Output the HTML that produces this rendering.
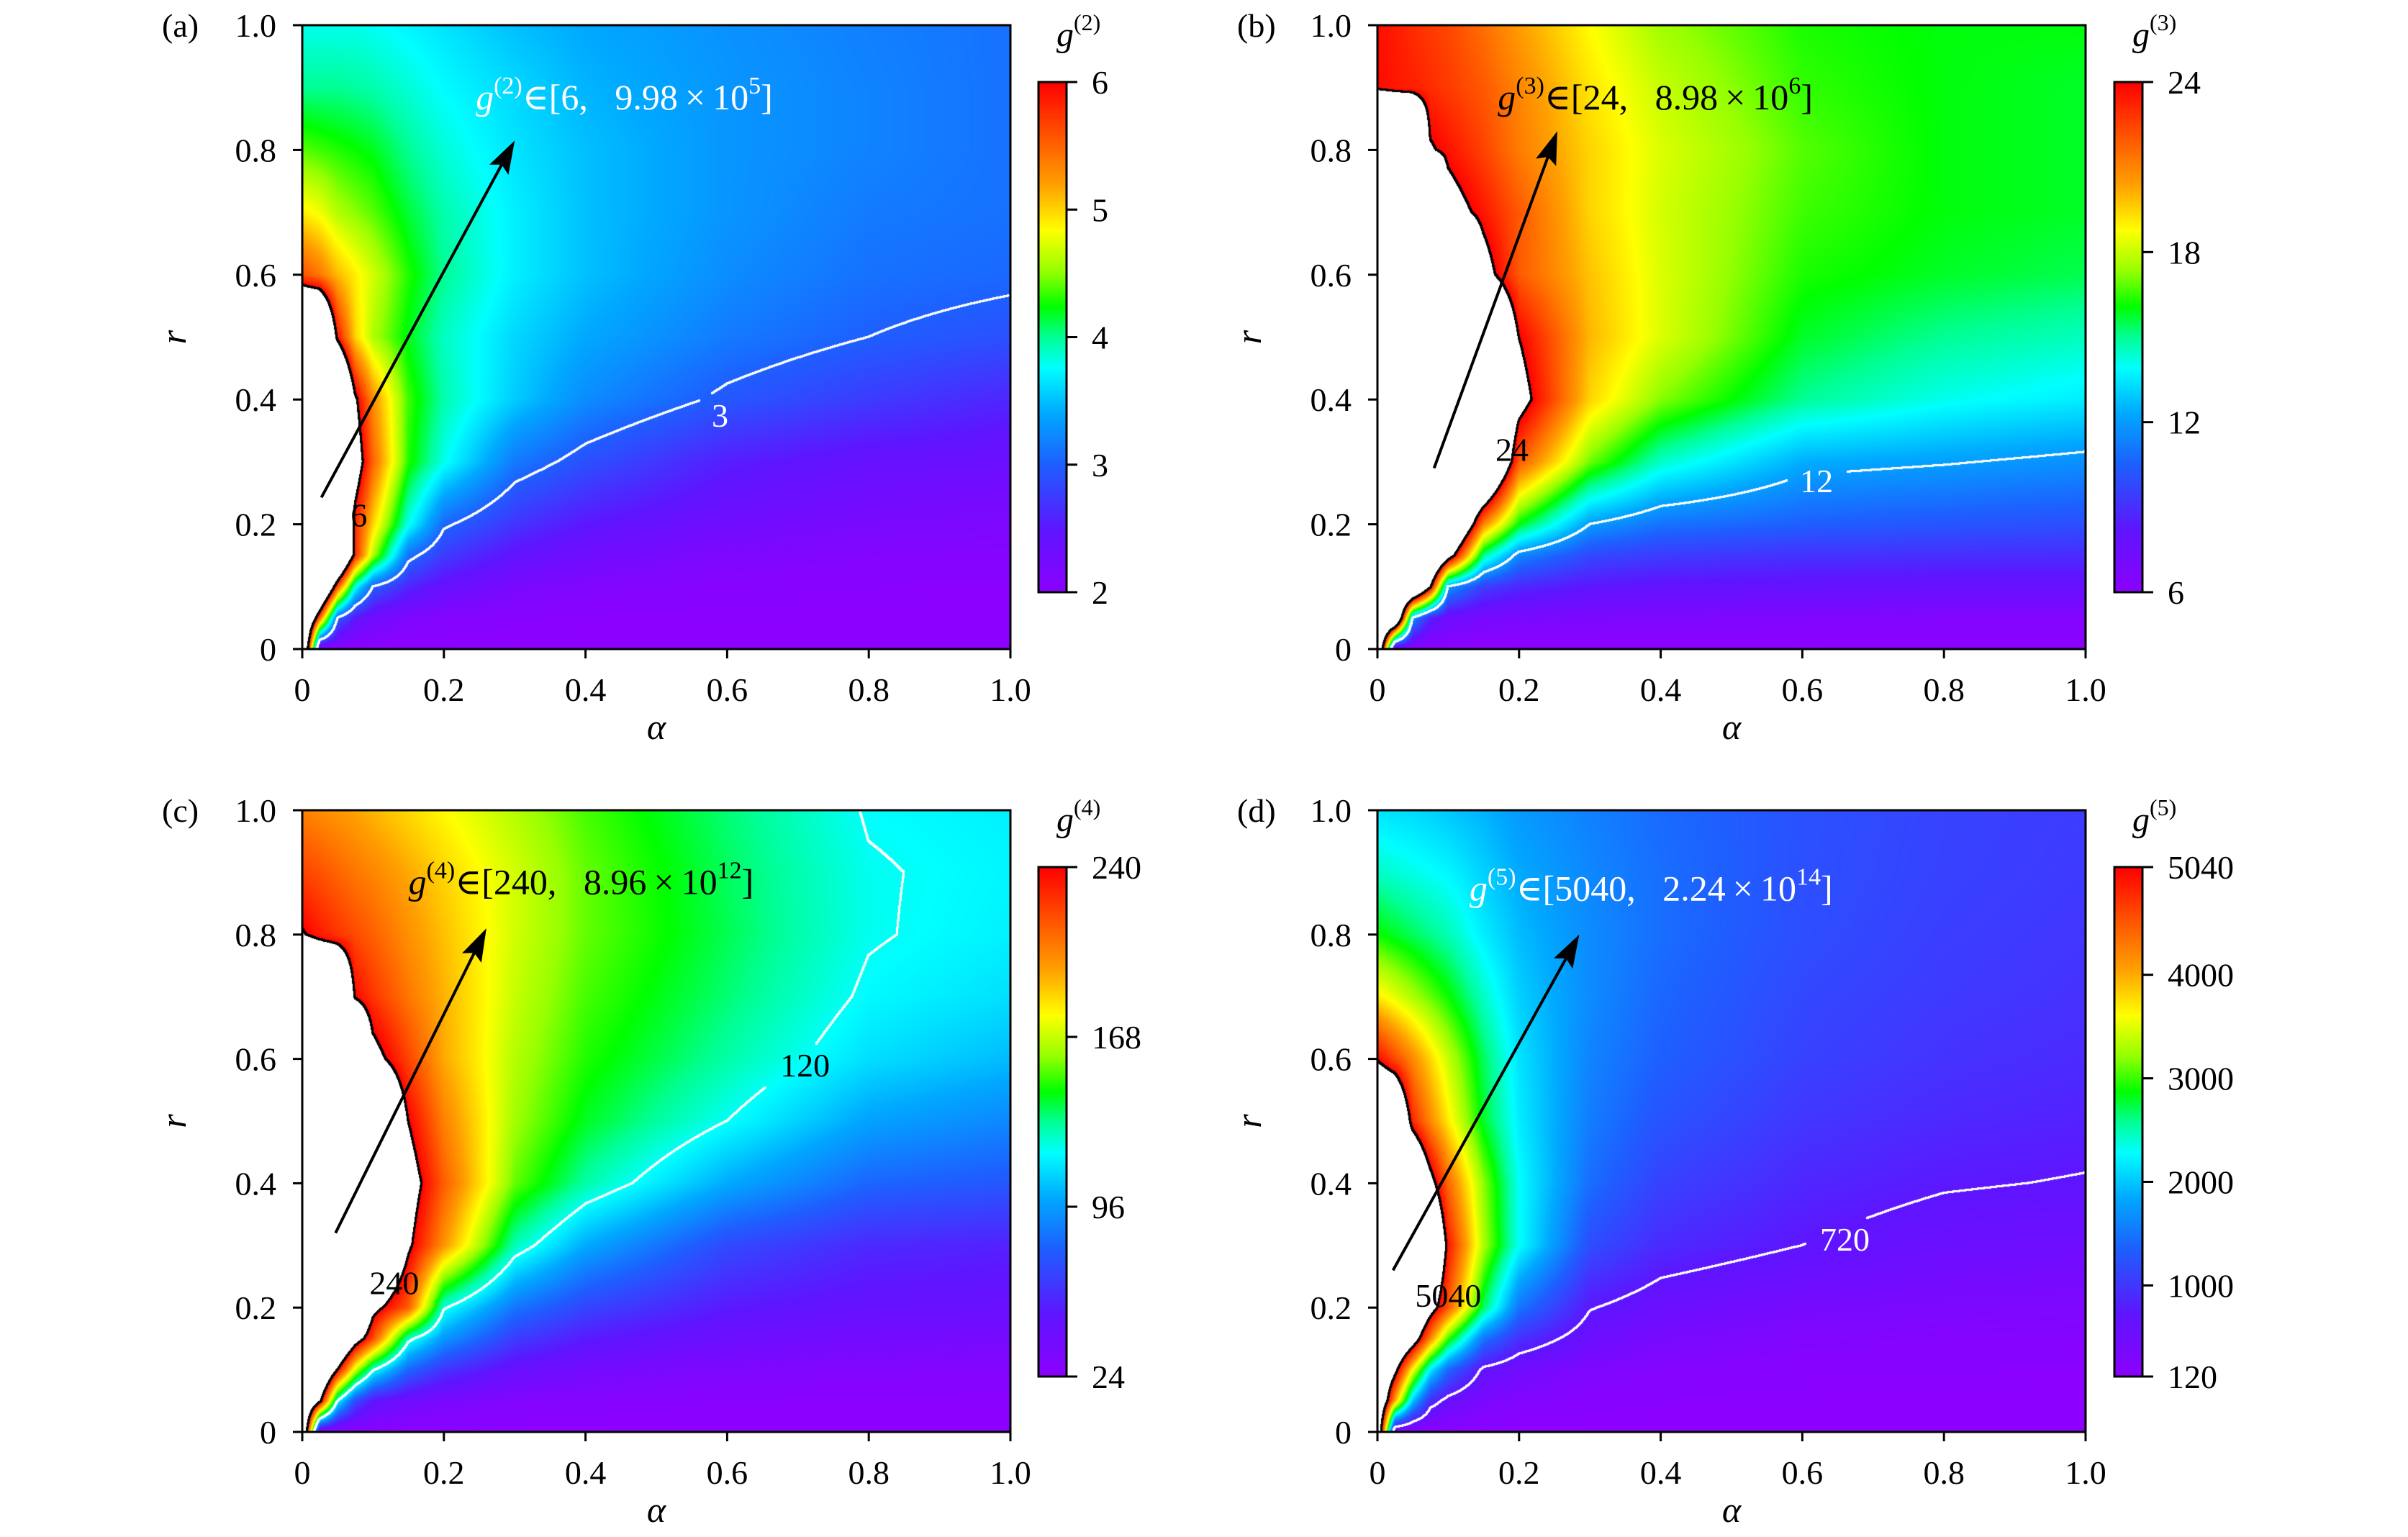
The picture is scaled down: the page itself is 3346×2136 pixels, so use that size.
<!DOCTYPE html>
<html><head><meta charset="utf-8">
<style>
html,body{margin:0;padding:0;background:#fff;}
#root{position:relative;width:3346px;height:2136px;overflow:hidden;background:#fff;}
canvas{position:absolute;}
svg{position:absolute;left:0;top:0;}
text{font-family:"Liberation Serif","DejaVu Serif",serif;white-space:pre;}
</style></head>
<body>
<div id="root">
<canvas id="cvA"></canvas>
<canvas id="cvB"></canvas>
<canvas id="cvC"></canvas>
<canvas id="cvD"></canvas>
<canvas id="cbA"></canvas>
<canvas id="cbB"></canvas>
<canvas id="cbC"></canvas>
<canvas id="cbD"></canvas>
<svg id="ov" width="3346" height="2136"></svg>
</div>
<script>
// grid coordinates
const alphaGrid=[0,0.025,0.05,0.075,0.1,0.15,0.2,0.3,0.4,0.6,0.8,1.0];
const rGrid=[0,0.05,0.1,0.15,0.2,0.3,0.4,0.5,0.6,0.7,0.8,0.9,1.0];
// panel (a) g2 values, rows = r, cols = alpha (values above 6 are blank)
const gridA=[
[8,2,2,2,2,2,2,2,2,2,2,2],
[8,5.5,3.0,2.5,2.3,2.15,2.1,2.05,2.03,2.02,2.01,2.0],
[8,8,5.6,3.8,3.0,2.6,2.4,2.2,2.12,2.06,2.03,2.02],
[8,8,8,5.8,4.6,3.1,2.75,2.45,2.3,2.15,2.1,2.08],
[8,8,8,5.8,5.0,3.8,3.05,2.7,2.5,2.3,2.2,2.15],
[8,8,8,6.4,5.5,4.3,3.8,3.15,2.9,2.55,2.4,2.35],
[8,8,8,6.1,5.3,4.35,3.95,3.55,3.25,2.95,2.75,2.6],
[8,8,5.9,5.0,4.6,4.2,3.9,3.6,3.4,3.15,3.0,2.9],
[5.6,5.4,5.1,4.9,4.7,4.3,4.0,3.7,3.5,3.25,3.1,3.05],
[4.9,4.8,4.6,4.5,4.4,4.15,3.95,3.7,3.5,3.3,3.15,3.1],
[4.4,4.35,4.3,4.25,4.2,4.0,3.85,3.65,3.5,3.3,3.2,3.1],
[4.0,4.0,4.0,3.98,3.95,3.85,3.75,3.6,3.45,3.3,3.2,3.1],
[3.8,3.8,3.8,3.8,3.78,3.72,3.65,3.5,3.4,3.28,3.18,3.1]];
// panel (b) g3
const gridB=[
[32,6,6,6,6,6,6,6,6,6,6,6],
[32,32,12,8.5,7.5,7.0,6.9,6.8,6.7,6.6,6.5,6.5],
[32,32,32,24.5,12,9.5,8.8,8.2,8,7.9,7.8,7.8],
[32,32,32,32,26,15,11.5,9.8,9.4,9.1,9.0,8.9],
[32,32,32,32,32,21,16,12,11,10.5,10.2,10.0],
[32,32,32,32,32,32,22,17,14.5,12.4,12.1,11.7],
[32,32,32,32,32,32,25,19.5,17.2,15,14.1,13.6],
[32,32,32,32,32,32,24,20,18.3,15.8,15,14.6],
[32,32,32,32,32,25,22,19.8,18.3,16.3,15.8,15.5],
[32,32,32,32,25,23.5,22,19.5,18.2,16.6,16,15.8],
[32,32,32,24.2,23.6,22.5,21.2,19.5,18.3,16.8,16,15.8],
[23.8,23.5,23.3,23,22.7,22,21,19.2,18,16.5,16,15.8],
[23.7,23.4,23,22.7,22.4,21.5,20.5,18.8,17.5,16.3,16,16]];
// panel (c) g4
const gridC=[
[320,24,24,24,24,24,24,24,24,24,24,24],
[320,250,120,70,50,40,35,30,28,26,25,25],
[320,320,240,170,122,80,62,45,38,32,30,29],
[320,320,320,260,220,125,95,65,52,42,38,36],
[320,320,320,320,250,215,122,85,68,52,46,44],
[320,320,320,320,320,245,200,128,100,70,58,55],
[320,320,320,320,320,255,215,155,130,100,80,75],
[320,320,320,320,320,240,205,162,142,120,98,90],
[320,320,320,320,250,222,195,165,148,130,112,104],
[320,320,320,238,226,208,193,168,152,135,118,112],
[242,233,226,220,214,201,190,170,155,138,121,116],
[222,218,213,208,204,195,186,170,155,137,121,117],
[205,202,199,196,192,185,178,165,152,135,119,116]];
// panel (d) g5
const gridD=[
[6500,120,120,120,120,120,120,120,120,120,120,120],
[6500,4000,2000,900,600,350,260,190,160,140,130,125],
[6500,5300,3600,2200,1400,650,480,300,230,180,160,150],
[6500,6500,5600,4200,3000,1500,950,550,380,270,230,210],
[6500,6500,6500,5400,4500,2700,1500,740,560,400,330,300],
[6500,6500,6500,6500,4900,3300,2300,1200,900,720,560,500],
[6500,6500,6500,5300,4400,3200,2300,1450,1100,870,750,700],
[6500,6500,4800,4200,3700,2800,2200,1550,1250,1000,880,820],
[5000,4600,4200,3800,3400,2700,2150,1600,1350,1100,970,900],
[3700,3500,3300,3100,2900,2450,2050,1650,1400,1150,1030,960],
[2900,2800,2700,2600,2500,2200,1950,1650,1450,1200,1070,1000],
[2450,2400,2350,2300,2250,2050,1850,1620,1450,1220,1100,1030],
[2150,2120,2100,2050,2000,1900,1750,1580,1430,1230,1110,1050]];
const axisTicks=[0,0.2,0.4,0.6,0.8,1.0];
const axisTickLabels=["0","0.2","0.4","0.6","0.8","1.0"];
const cbTicksA=[2,3,4,5,6];
const cbTicksB=[6,12,18,24];
const cbTicksC=[24,96,168,240];
const cbTicksD=[120,1000,2000,3000,4000,5040];
const contourLevels=[3,12,120,720];
const maxLevels=[6,24,240,5040];
const minLevels=[2,6,24,120];

const stops=[[0,[140,0,255]],[0.12,[95,20,255]],[0.25,[30,95,255]],[0.35,[0,168,255]],[0.44,[0,255,255]],[0.5,[0,255,150]],[0.56,[0,255,0]],[0.63,[150,255,0]],[0.71,[255,255,0]],[0.8,[255,160,0]],[0.9,[255,80,0]],[1,[255,0,0]]];
function cmap(t){t=Math.max(0,Math.min(1,t));for(let i=0;i<stops.length-1;i++){const a=stops[i],b=stops[i+1];if(t<=b[0]){const f=(t-a[0])/(b[0]-a[0]);return [0,1,2].map(k=>a[1][k]+(b[1][k]-a[1][k])*f);}}return stops[stops.length-1][1];}
function findIdx(arr,v){for(let i=0;i<arr.length-1;i++){if(v<=arr[i+1])return i;}return arr.length-2;}
function sample(grid,a,r){const i=findIdx(alphaGrid,a),j=findIdx(rGrid,r);const fa=(a-alphaGrid[i])/(alphaGrid[i+1]-alphaGrid[i]);const fr=(r-rGrid[j])/(rGrid[j+1]-rGrid[j]);const v00=grid[j][i],v01=grid[j][i+1],v10=grid[j+1][i],v11=grid[j+1][i+1];return (v00*(1-fa)+v01*fa)*(1-fr)+(v10*(1-fa)+v11*fa)*fr;}

const panels=[
{id:'a',cv:'cvA',cb:'cbA',grid:gridA,L:420,T:35,R:1404,B:902,cbx:1443,cbT:114,cbB:823,ticks:cbTicksA,min:minLevels[0],max:maxLevels[0],lev:contourLevels[0],n:2,
 label:'(a)',ann:{col:'#fff',a:0.245,r:0.865,sup:'2',rest:'∈[6,\u2002 9.98\u2009×\u200910',exp:'5'},arrow:[0.027,0.243,0.30,0.815],cl:[{t:'3',a:0.59,r:0.375,c:'#fff',gap:true},{t:'6',a:0.08,r:0.215,c:'#000'}]},
{id:'b',cv:'cvB',cb:'cbB',grid:gridB,L:1914,T:35,R:2898,B:902,cbx:2938,cbT:114,cbB:823,ticks:cbTicksB,min:minLevels[1],max:maxLevels[1],lev:contourLevels[1],n:3,
 label:'(b)',ann:{col:'#000',a:0.17,r:0.865,sup:'3',rest:'∈[24,\u2002 8.98\u2009×\u200910',exp:'6'},arrow:[0.08,0.29,0.254,0.83],cl:[{t:'24',a:0.19,r:0.32,c:'#000'},{t:'12',a:0.62,r:0.27,c:'#fff',gap:true}]},
{id:'c',cv:'cvC',cb:'cbC',grid:gridC,L:420,T:1126,R:1404,B:1990,cbx:1443,cbT:1205,cbB:1913,ticks:cbTicksC,min:minLevels[2],max:maxLevels[2],lev:contourLevels[2],n:4,
 label:'(c)',ann:{col:'#000',a:0.15,r:0.865,sup:'4',rest:'∈[240,\u2002 8.96\u2009×\u200910',exp:'12'},arrow:[0.047,0.32,0.26,0.81],cl:[{t:'240',a:0.13,r:0.24,c:'#000'},{t:'120',a:0.71,r:0.59,c:'#000',gap:true}]},
{id:'d',cv:'cvD',cb:'cbD',grid:gridD,L:1914,T:1126,R:2898,B:1990,cbx:2938,cbT:1205,cbB:1913,ticks:cbTicksD,min:minLevels[3],max:maxLevels[3],lev:contourLevels[3],n:5,
 label:'(d)',ann:{col:'#fff',a:0.13,r:0.855,sup:'5',rest:'∈[5040,\u2002 2.24\u2009×\u200910',exp:'14'},arrow:[0.022,0.26,0.285,0.8],cl:[{t:'5040',a:0.1,r:0.22,c:'#000'},{t:'720',a:0.66,r:0.31,c:'#fff',gap:true}]}
];

const svg=document.getElementById('ov');
const NS='http://www.w3.org/2000/svg';
function mk(tag,attrs,parent){const e=document.createElementNS(NS,tag);for(const k in attrs)e.setAttribute(k,attrs[k]);(parent||svg).appendChild(e);return e;}

panels.forEach(p=>{
  const W=p.R-p.L,H=p.B-p.T;
  const xs=a=>p.L+a*W, ys=r=>p.B-r*H;
  const cv=document.getElementById(p.cv);cv.width=W;cv.height=H;cv.style.left=p.L+'px';cv.style.top=p.T+'px';
  const ctx=cv.getContext('2d');const img=ctx.createImageData(W,H);const d=img.data;
  const vals=new Float32Array(W*H);
  for(let y=0;y<H;y++){const r=1-(y+0.5)/H;for(let x=0;x<W;x++){vals[y*W+x]=sample(p.grid,(x+0.5)/W,r);}}
  for(let y=0;y<H;y++)for(let x=0;x<W;x++){const i=y*W+x,v=vals[i];let c;
    if(v>p.max)c=[255,255,255];else c=cmap((v-p.min)/(p.max-p.min));
    d[i*4]=c[0];d[i*4+1]=c[1];d[i*4+2]=c[2];d[i*4+3]=255;}
  const gaps=p.cl.filter(c=>c.gap).map(c=>({cx:c.a*W,cy:(1-c.r)*H,hw:c.t.length*13+16,hh:30}));
  function mark(level,col,th,useGap){for(let y=0;y<H-1;y++)for(let x=0;x<W-1;x++){const i=y*W+x,v=vals[i]-level,vr=vals[i+1]-level,vd=vals[i+W]-level;
    if(v*vr<0||v*vd<0){if(useGap&&gaps.some(g=>Math.abs(x-g.cx)<g.hw&&Math.abs(y-g.cy)<g.hh))continue;
      for(let dy=0;dy<th;dy++)for(let dx=0;dx<th;dx++){const yy=y+dy-1,xx=x+dx-1;if(yy<0||xx<0||yy>=H||xx>=W)continue;const k=(yy*W+xx)*4;d[k]=col[0];d[k+1]=col[1];d[k+2]=col[2];}}}}
  mark(p.lev,[255,255,255],3,true);
  mark(p.max,[0,0,0],3,false);
  ctx.putImageData(img,0,0);
  const cb=document.getElementById(p.cb);const cw=39,ch=p.cbB-p.cbT;cb.width=cw;cb.height=ch;cb.style.left=p.cbx+'px';cb.style.top=p.cbT+'px';
  const cctx=cb.getContext('2d');
  for(let y=0;y<ch;y++){const c=cmap(1-y/ch);cctx.fillStyle='rgb('+c.map(Math.round).join(',')+')';cctx.fillRect(0,y,cw,1);}
  const g=mk('g',{});
  
  
  const fr=mk('rect',{x:p.L,y:p.T,width:W,height:H,fill:'none',stroke:'#000','stroke-width':3},g);
  
  
  axisTicks.forEach((t,k)=>{
    const lx=mk('line',{x1:xs(t),x2:xs(t),y1:p.B,y2:p.B+13,stroke:'#000','stroke-width':3},g);
    
    
    const tx=mk('text',{x:xs(t),y:p.B+72,'font-size':46,'text-anchor':'middle'},g);tx.textContent=axisTickLabels[k];
    
    
    const ly=mk('line',{x1:p.L-13,x2:p.L,y1:ys(t),y2:ys(t),stroke:'#000','stroke-width':3},g);
    
    
    const ty=mk('text',{x:p.L-36,y:ys(t)+16,'font-size':46,'text-anchor':'end'},g);ty.textContent=axisTickLabels[k];
    
    
  });
  const xl=mk('text',{x:(p.L+p.R)/2,y:p.B+125,'font-size':50,'font-style':'italic','text-anchor':'middle'},g);xl.textContent='α';
  
  
  const yl=mk('text',{x:0,y:0,'font-size':50,'font-style':'italic','text-anchor':'middle',transform:'translate('+(p.L-162)+','+((p.T+p.B)/2)+') rotate(-90)'},g);yl.textContent='r';
  
  
  const pl=mk('text',{x:p.L-195,y:p.T+16,'font-size':46},g);pl.textContent=p.label;
  
  
  const cf=mk('rect',{x:p.cbx,y:p.cbT,width:39,height:ch,fill:'none',stroke:'#000','stroke-width':3},g);
  
  
  p.ticks.forEach(v=>{const yy=p.cbB-(v-p.min)/(p.max-p.min)*ch;
    const l=mk('line',{x1:p.cbx+39,x2:p.cbx+54,y1:yy,y2:yy,stroke:'#000','stroke-width':3},g);
    
    
    const t=mk('text',{x:p.cbx+74,y:yy+16,'font-size':46},g);t.textContent=String(v);
    
    });
  const ct=mk('text',{x:p.cbx+25,y:p.cbT-50,'font-size':48,'font-style':'italic'},g);ct.textContent='g';
  
  
  const cs=mk('tspan',{dy:-22,'font-size':32,'font-style':'normal'},ct);cs.textContent='('+p.n+')';
  const [a0,r0,a1,r1]=p.arrow;const x0=xs(a0),y0=ys(r0),x1=xs(a1),y1=ys(r1);
  const ang=Math.atan2(y1-y0,x1-x0),hl=38,hw=15;
  const bx=x1-hl*Math.cos(ang),by=y1-hl*Math.sin(ang);
  const ar=mk('line',{x1:x0,y1:y0,x2:bx,y2:by,stroke:'#000','stroke-width':4},g);
  
  
  const ah=mk('polygon',{points:[x1,y1,bx-hw*Math.sin(ang)-8*Math.cos(ang),by+hw*Math.cos(ang)-8*Math.sin(ang),bx,by,bx+hw*Math.sin(ang)-8*Math.cos(ang),by-hw*Math.cos(ang)-8*Math.sin(ang)].join(','),fill:'#000'},g);
  
  
  const an=mk('text',{x:xs(p.ann.a),y:ys(p.ann.r),'font-size':50,fill:p.ann.col},g);
  
  
  const s1=mk('tspan',{'font-style':'italic'},an);s1.textContent='g';
  const s2=mk('tspan',{dy:-22,'font-size':34},an);s2.textContent='('+p.ann.sup+')';
  const s3=mk('tspan',{dy:22},an);s3.textContent=p.ann.rest;
  const s4=mk('tspan',{dy:-22,'font-size':34},an);s4.textContent=p.ann.exp;
  const s5=mk('tspan',{dy:22},an);s5.textContent=']';
  p.cl.forEach(c=>{const t=mk('text',{x:xs(c.a),y:ys(c.r)+16,'font-size':46,fill:c.c,'text-anchor':'middle'},g);t.textContent=c.t;
    
    });
});
</script>
</body></html>
